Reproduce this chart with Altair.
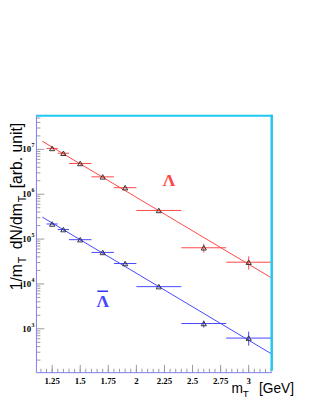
import altair as alt
import pandas as pd

# ---------------- data ----------------
bin_lo = [1.2, 1.3, 1.4, 1.6, 1.8, 2.0, 2.4, 2.8]
bin_hi = [1.3, 1.4, 1.6, 1.8, 2.0, 2.4, 2.8, 3.2]
mt = [1.25, 1.35, 1.5, 1.7, 1.9, 2.2, 2.6, 3.0]

lam = [1.05e7, 8.2e6, 4.85e6, 2.44e6, 1.40e6, 4.35e5, 6.4e4, 3.05e4]
lam_lo = [1.00e7, 7.8e6, 4.6e6, 2.32e6, 1.33e6, 4.13e5, 5.0e4, 2.1e4]
lam_hi = [1.10e7, 8.6e6, 5.1e6, 2.56e6, 1.47e6, 4.57e5, 7.9e4, 4.12e4]

alam = [2.17e5, 1.63e5, 9.7e4, 5.04e4, 2.85e4, 8.7e3, 1.31e3, 6.2e2]
alam_lo = [2.07e5, 1.55e5, 9.2e4, 4.8e4, 2.7e4, 8.3e3, 1.06e3, 4.2e2]
alam_hi = [2.27e5, 1.71e5, 1.02e5, 5.3e4, 3.0e4, 9.1e3, 1.53e3, 8.65e2]

fit_x = [1.162, 3.204]
fit_lam = [1.52e7, 1.36e4]
fit_alam = [3.09e5, 2.75e2]

x_major = [1.25, 1.5, 1.75, 2.0, 2.25, 2.5, 2.75, 3.0]
x_labels = ["1.25", "1.5", "1.75", "2", "2.25", "2.5", "2.75", "3"]
x_minor = [round(1.15 + 0.05 * i, 2) for i in range(42)]
y_exp = [3, 4, 5, 6, 7]
y_minor = [k * 10 ** n for n in range(2, 8) for k in range(2, 10)]

W, H = 240, 262
XDOM = [1.11, 3.205]
YDOM = [105, 5.6e7]
RED = "#ff4545"
BLUE = "#4545ff"
AXC = "#7b7bef"
CYAN = "#1ec8f0"
TICKC = "#9a9a9a"

xs = alt.Scale(domain=XDOM, nice=False, zero=False)
ys = alt.Scale(type="log", domain=YDOM, nice=False, clamp=True)

pts = pd.DataFrame({
    "x": mt * 2, "lo": bin_lo * 2, "hi": bin_hi * 2,
    "y": lam + alam, "ylo": lam_lo + alam_lo, "yhi": lam_hi + alam_hi,
    "s": ["L"] * 8 + ["A"] * 8,
})
fit = pd.DataFrame({"x": fit_x * 2, "y": fit_lam + fit_alam, "s": ["L", "L", "A", "A"]})
col = alt.Color("s:N", scale=alt.Scale(domain=["L", "A"], range=[RED, BLUE]), legend=None)

X = lambda f="x": alt.X(f"{f}:Q", scale=xs, axis=None)
Y = lambda f="y": alt.Y(f"{f}:Q", scale=ys, axis=None)

base_p = alt.Chart(pts)
hbar = base_p.mark_rule(strokeWidth=1).encode(x=X("lo"), x2="hi:Q", y=Y(), color=col)
vbar = base_p.mark_rule(strokeWidth=1).encode(x=X(), y=Y("ylo"), y2="yhi:Q", color=col)
marks = base_p.mark_point(shape="triangle-up", filled=False, size=28, stroke="#333333",
                          strokeWidth=1, opacity=1).encode(x=X(), y=Y())
lines = alt.Chart(fit).mark_line(strokeWidth=1).encode(x=X(), y=Y(), color=col, detail="s:N")

# ticks
xt_maj = alt.Chart(pd.DataFrame({"v": x_major})).mark_rule(color=TICKC).encode(
    x=alt.X("v:Q", scale=xs, axis=None), y=alt.value(H), y2=alt.value(H - 8))
xt_min = alt.Chart(pd.DataFrame({"v": x_minor})).mark_rule(color=TICKC).encode(
    x=alt.X("v:Q", scale=xs, axis=None), y=alt.value(H), y2=alt.value(H - 4))
yt_maj = alt.Chart(pd.DataFrame({"v": [10.0 ** e for e in y_exp]})).mark_rule(color=TICKC).encode(
    y=alt.Y("v:Q", scale=ys, axis=None), x=alt.value(0), x2=alt.value(8))
yt_min = alt.Chart(pd.DataFrame({"v": y_minor})).transform_filter(
    (alt.datum.v >= YDOM[0]) & (alt.datum.v <= YDOM[1])).mark_rule(color=TICKC).encode(
    y=alt.Y("v:Q", scale=ys, axis=None), x=alt.value(0), x2=alt.value(4))

# tick labels
xl = alt.Chart(pd.DataFrame({"v": x_major, "t": x_labels})).mark_text(
    font="Liberation Serif", fontWeight="bold", fontSize=9, baseline="alphabetic").encode(
    x=alt.X("v:Q", scale=xs, axis=None), y=alt.value(H + 12), text="t:N")
ydf = pd.DataFrame({"v": [10.0 ** e for e in y_exp], "t10": ["10"] * 5, "te": [str(e) for e in y_exp]})
yl10 = alt.Chart(ydf).mark_text(font="Liberation Serif", fontWeight="bold", fontSize=9,
                                align="right", baseline="middle").encode(
    y=alt.Y("v:Q", scale=ys, axis=None), x=alt.value(-5.5), text="t10:N")
ylexp = alt.Chart(ydf).mark_text(font="Liberation Serif", fontWeight="bold", fontSize=6,
                                 align="left", baseline="middle", dy=-4).encode(
    y=alt.Y("v:Q", scale=ys, axis=None), x=alt.value(-5), text="te:N")

# frame
one = pd.DataFrame({"a": [0]})
left_ax = alt.Chart(one).mark_rule(color=AXC, strokeWidth=1).encode(
    x=alt.value(0), y=alt.value(-1), y2=alt.value(H))
bot_ax = alt.Chart(one).mark_rule(color=AXC, strokeWidth=1).encode(
    x=alt.value(0), x2=alt.value(W), y=alt.value(H))
top_fr = alt.Chart(one).mark_rule(color=CYAN, strokeWidth=2).encode(
    x=alt.value(0), x2=alt.value(W + 1), y=alt.value(0))
right_fr = alt.Chart(one).mark_rule(color=CYAN, strokeWidth=2.5).encode(
    x=alt.value(W), y=alt.value(-1), y2=alt.value(H - 2))

# series labels
lab_x = [2.292, 1.70]
lab_y = [1.5e6, 3.0e3]
lab = pd.DataFrame({"x": lab_x, "y": lab_y, "t": ["Λ", "Λ"], "c": ["r", "b"]})
lab_colors = alt.Color("c:N", scale=alt.Scale(domain=["r", "b"], range=["#ff0000", "#1010f0"]), legend=None)
labels = alt.Chart(lab).mark_text(font="Liberation Serif", fontWeight="bold", fontSize=18,
                                  baseline="alphabetic").encode(x=X(), y=Y(), text="t:N", color=lab_colors)
overbar = alt.Chart(lab).transform_filter(alt.datum.c == "b").mark_tick(
    orient="horizontal", size=11, thickness=1.3, yOffset=-16.5, color="#1010f0", opacity=1).encode(
    x=X(), y=Y())

# axis titles
def txt(t, x, y, size, angle=0):
    return alt.Chart(pd.DataFrame({"t": [t]})).mark_text(
        font="Liberation Sans", fontSize=size, align="left", baseline="alphabetic", angle=angle,
        color="black").encode(x=alt.value(x), y=alt.value(y), text="t:N")

FS = 16
FSS = 11
SP = 0.278 * FS + 3
CW = {"1/m": 1.667, "T": 0.611, "dN/dm": 2.945, "[arb. unit]": 4.169}
ytitle = []
pos = 178.0
for piece, size, bx, gap in [("1/m", FS, -14.5, 0), ("T", FSS, -10.5, 1), ("dN/dm", FS, -14.5, SP),
                             ("T", FSS, -10.5, 1), ("[arb. unit]", FS, -14.5, SP)]:
    pos -= gap
    ytitle.append(txt(piece, bx, pos, size, 270))
    pos -= CW[piece] * size

xtitle = [
    txt("m", 199, 283, 14),
    txt("T", 210.5, 287, 10),
    txt("[GeV]", 227, 283, 14),
]

chart = alt.layer(
    xt_min, xt_maj, yt_min, yt_maj, left_ax, bot_ax,
    lines, hbar, vbar, marks, labels, overbar, xl, yl10, ylexp, top_fr, right_fr,
    *ytitle, *xtitle,
).properties(
    width=W, height=H,
    autosize=alt.AutoSizeParams(type="none"),
    padding={"left": 29, "top": 106, "right": 36, "bottom": 30},
).configure_view(stroke=None)

chart.save("out.html", embed_options={"renderer": "svg", "actions": False})
